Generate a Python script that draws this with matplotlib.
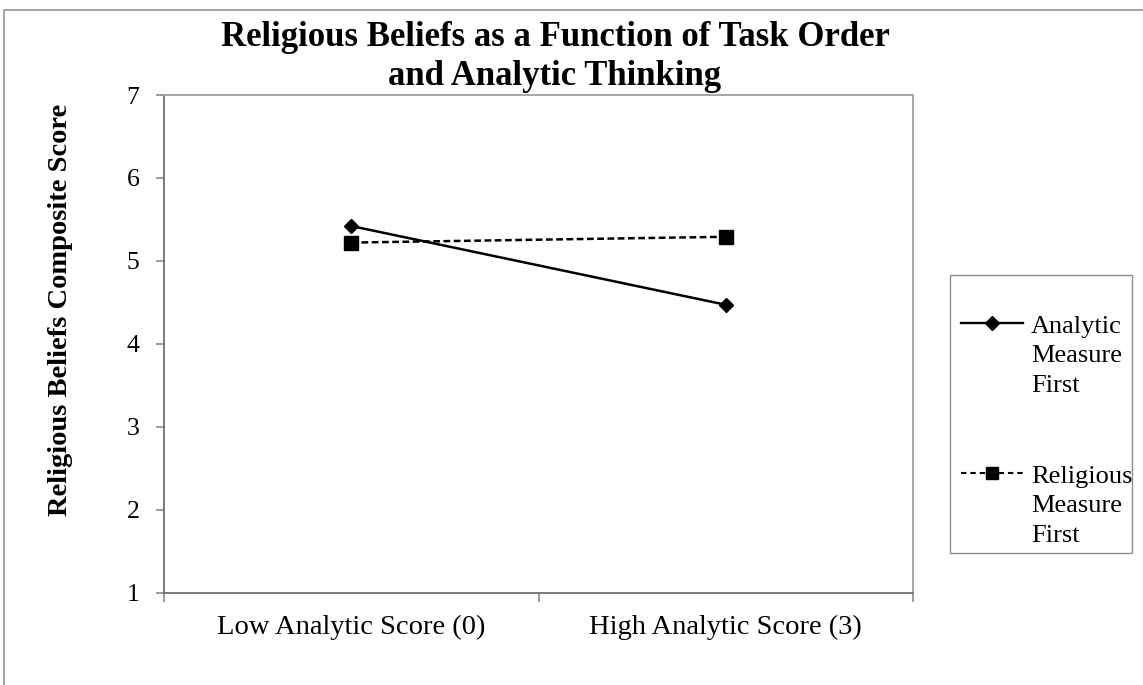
import matplotlib
matplotlib.use("Agg")
import matplotlib.pyplot as plt
from matplotlib.lines import Line2D
from matplotlib.patches import Rectangle

# Data
categories = ["Low Analytic Score (0)", "High Analytic Score (3)"]
analytic_first = [5.42, 4.47]
religious_first = [5.22, 5.29]
series_labels = ["Analytic\nMeasure\nFirst", "Religious\nMeasure\nFirst"]
y_ticks = [1, 2, 3, 4, 5, 6, 7]

W, H = 1143, 685
plt.rcParams['font.family'] = ['Liberation Serif', 'DejaVu Serif']


def fx(px):
    return px / W


def fy(py):
    return 1 - py / H


fig = plt.figure(figsize=(W / 100, H / 100), dpi=100, facecolor='white')

ax = fig.add_axes([fx(164), fy(592.5), fx(913) - fx(164), fy(95) - fy(592.5)])
x = list(range(len(categories)))
solid_style = dict(color='black', lw=1.8, marker='D', ms=6.8)
dash_style = dict(color='black', lw=1.8, ls=(0, (2.7, 1.4)), marker='s', ms=9.6)
ax.plot(x, analytic_first, **solid_style)
ax.plot(x, religious_first, **dash_style)

ax.set_xlim(-0.5, 1.5)
ax.set_ylim(1, 7)
ax.set_yticks(y_ticks)
ax.set_xticks(x)
ax.set_xticklabels(categories, fontsize=20.5)
ax.set_xticks([-0.5, 0.5, 1.5], minor=True)
ax.tick_params(axis='x', which='major', length=0, pad=16)
ax.tick_params(axis='x', which='minor', length=6.5, width=1.1,
               color='#808080', direction='out')
ax.tick_params(axis='y', length=5.8, width=1.1, color='#808080',
               direction='out', pad=12, labelsize=18.5)

for side in ('left', 'bottom'):
    ax.spines[side].set_color('#6e6e6e')
    ax.spines[side].set_linewidth(1.3)
for side in ('top', 'right'):
    ax.spines[side].set_color('#a0a0a0')
    ax.spines[side].set_linewidth(1.3)

# Axis title and chart title
fig.text(fx(61), fy(310), 'Religious Beliefs Composite Score', rotation=90,
         fontsize=20.5, fontweight='bold', ha='center', va='center')
fig.text(fx(555), fy(57),
         'Religious Beliefs as a Function of Task Order\nand Analytic Thinking',
         ha='center', va='center', fontsize=25, fontweight='bold',
         linespacing=1.25)

# Outer chart border (top and left edges)
fig.add_artist(Line2D([fx(4), fx(4), 1], [0, fy(10), fy(10)],
                      transform=fig.transFigure, color='#8c8c8c', lw=1.1))

# Legend box
fig.add_artist(Rectangle((fx(950), fy(553)), fx(1132) - fx(950),
                         fy(275) - fy(553), transform=fig.transFigure,
                         fill=False, edgecolor='#8c8c8c', lw=1.0))

key_styles = [
    (dict(color='black', lw=1.7), dict(marker='D', ms=6.8, color='black')),
    (dict(color='black', lw=1.5, ls=(0, (2.6, 1.9))), dict(marker='s', ms=9.0, color='black')),
]
line_step = 30.5
for (lstyle, mstyle), label, ymid in zip(key_styles, series_labels, [323, 473]):
    fig.add_artist(Line2D([fx(961), fx(1023)], [fy(ymid)] * 2,
                          transform=fig.transFigure, **lstyle))
    fig.add_artist(Line2D([fx(992)], [fy(ymid)], ls='none',
                          transform=fig.transFigure, **mstyle))
    # baseline of the last line of the three-line label
    fig.text(fx(1031), fy(ymid + 8 + 2 * line_step), label, fontsize=19,
             va='baseline', ha='left', linespacing=1.45)

fig.savefig('out.png', dpi=100, facecolor='white')
